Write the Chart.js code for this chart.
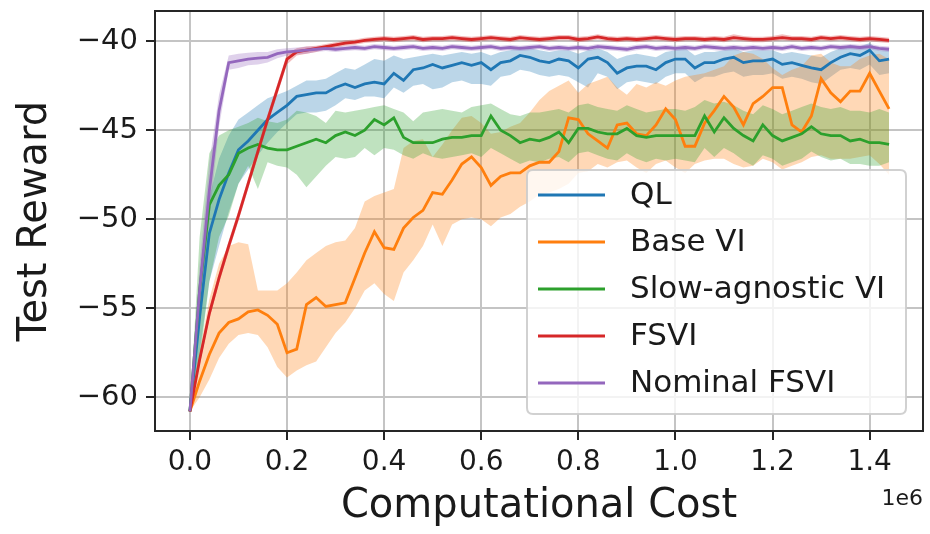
<!DOCTYPE html>
<html>
<head>
<meta charset="utf-8">
<script src="https://cdn.jsdelivr.net/npm/chart.js@4.4.1/dist/chart.umd.min.js"></script>
<style>
html,body{margin:0;padding:0;background:#fff;}
#wrap{width:930px;height:534px;position:relative;}
</style>
</head>
<body>
<div id="wrap"><canvas id="c" width="930" height="534"></canvas></div>
<script>
const costs = [0,20000,40000,60000,80000,100000,120000,140000,160000,180000,200000,220000,240000,260000,280000,300000,320000,340000,360000,380000,400000,420000,440000,460000,480000,500000,520000,540000,560000,580000,600000,620000,640000,660000,680000,700000,720000,740000,760000,780000,800000,820000,840000,860000,880000,900000,920000,940000,960000,980000,1000000,1020000,1040000,1060000,1080000,1100000,1120000,1140000,1160000,1180000,1200000,1220000,1240000,1260000,1280000,1300000,1320000,1340000,1360000,1380000,1400000,1420000,1440000];

const seriesNames = ["QL","Base VI","Slow-agnostic VI","FSVI","Nominal FSVI"];
const xTickValues = [0,200000,400000,600000,800000,1000000,1200000,1400000];
const yTickValues = [-60,-55,-50,-45,-40];

const qlMean = [-60.8,-55.5,-50.8,-48.9,-47.4,-46.1,-45.6,-45.0,-44.4,-44.0,-43.6,-43.1,-43.0,-42.9,-42.9,-42.6,-42.4,-42.6,-42.4,-42.3,-42.4,-41.8,-42.2,-41.6,-41.5,-41.3,-41.5,-41.35,-41.2,-41.35,-41.2,-41.6,-41.2,-41.1,-40.8,-40.9,-41.1,-41.2,-41.0,-41.1,-41.5,-41.0,-40.9,-41.2,-41.8,-41.5,-41.4,-41.4,-41.6,-41.2,-41.0,-41.0,-41.5,-41.2,-41.2,-41.0,-40.9,-41.2,-41.1,-41.1,-41.0,-41.3,-41.2,-41.35,-41.5,-41.6,-41.2,-40.9,-40.7,-40.8,-40.5,-41.1,-41.0];
const qlHigh = [-60.8,-54.0,-48.8,-46.6,-45.3,-44.4,-44.0,-43.6,-43.2,-43.0,-42.8,-42.5,-42.2,-42.2,-42.1,-41.8,-41.5,-41.6,-41.3,-41.0,-41.1,-40.8,-41.0,-40.9,-40.8,-40.7,-40.8,-40.7,-40.6,-40.7,-40.6,-40.8,-40.6,-40.5,-40.3,-40.4,-40.5,-40.6,-40.5,-40.5,-40.7,-40.5,-40.4,-40.6,-41.0,-40.8,-40.7,-40.8,-40.9,-40.6,-40.5,-40.4,-40.8,-40.6,-40.6,-40.5,-40.4,-40.6,-40.5,-40.5,-40.5,-40.7,-40.6,-40.7,-40.8,-40.9,-40.6,-40.4,-40.2,-40.3,-40.1,-40.5,-40.5];
const qlLow = [-60.8,-57.5,-53.5,-51.5,-49.6,-48.0,-47.2,-46.4,-45.7,-45.1,-44.6,-44.1,-44.0,-44.0,-43.9,-43.6,-43.2,-43.3,-43.1,-43.1,-43.2,-42.6,-42.9,-42.5,-42.4,-42.7,-42.6,-42.3,-42.2,-42.4,-42.4,-42.5,-42.0,-41.9,-41.6,-41.7,-41.9,-42.0,-41.9,-42.0,-42.3,-42.6,-41.8,-42.0,-42.7,-42.3,-42.2,-42.3,-42.4,-42.0,-41.8,-41.8,-42.3,-42.0,-42.0,-41.8,-41.7,-42.0,-41.9,-41.9,-41.8,-42.1,-42.0,-42.1,-42.3,-42.4,-42.0,-41.6,-41.5,-41.6,-41.3,-41.9,-41.8];

const baseMean = [-60.8,-59.1,-57.6,-56.4,-55.8,-55.6,-55.2,-55.1,-55.4,-55.9,-57.5,-57.3,-54.8,-54.4,-54.9,-54.8,-54.7,-53.3,-51.9,-50.7,-51.6,-51.7,-50.5,-49.9,-49.5,-48.5,-48.6,-47.8,-46.9,-46.5,-47.1,-48.1,-47.6,-47.4,-47.4,-47.0,-46.8,-46.8,-46.2,-44.3,-44.4,-45.2,-45.6,-46.0,-44.7,-44.6,-45.2,-45.3,-44.7,-43.8,-44.4,-45.9,-45.9,-44.6,-43.9,-43.1,-43.7,-44.7,-43.5,-43.1,-42.6,-42.6,-44.7,-45.1,-44.2,-42.1,-42.9,-43.4,-42.8,-42.8,-41.8,-42.8,-43.8];
const baseHigh = [-60.8,-57.5,-54.5,-52.5,-51.5,-51.3,-51.4,-54.0,-54.0,-54.0,-53.6,-53.0,-52.3,-51.9,-51.5,-51.3,-51.2,-50.5,-49.0,-48.7,-48.5,-48.3,-46.0,-45.6,-45.5,-46.5,-45.8,-45.0,-44.3,-44.2,-44.6,-45.2,-45.1,-44.8,-44.6,-44.0,-43.3,-42.8,-42.5,-42.2,-42.9,-42.4,-42.2,-42.0,-42.6,-43.0,-42.4,-42.6,-42.3,-42.5,-42.2,-42.0,-41.9,-41.8,-41.6,-41.4,-40.8,-40.6,-40.7,-41.0,-41.5,-41.9,-41.6,-41.4,-40.8,-40.7,-41.2,-41.4,-41.4,-41.0,-40.8,-40.7,-41.0];
const baseLow = [-60.8,-60.0,-59.0,-57.8,-57.0,-56.5,-56.4,-56.5,-57.2,-58.3,-58.9,-58.5,-58.2,-58.0,-57.2,-56.4,-55.8,-55.0,-54.0,-53.6,-54.2,-54.6,-53.0,-52.3,-51.5,-50.3,-51.5,-50.3,-50.0,-49.9,-50.0,-50.4,-49.9,-49.7,-49.3,-49.0,-48.6,-48.5,-48.3,-48.0,-47.4,-47.3,-46.9,-47.1,-46.8,-46.7,-47.1,-47.4,-46.9,-46.7,-47.1,-47.4,-46.9,-46.7,-46.6,-46.6,-46.9,-47.1,-47.0,-46.6,-46.8,-47.2,-47.0,-46.8,-46.5,-46.4,-46.6,-46.6,-46.6,-46.5,-46.4,-46.9,-47.5];

const slowMean = [-60.8,-54.0,-49.2,-48.1,-47.5,-46.3,-46.0,-45.8,-46.0,-46.1,-46.1,-45.9,-45.7,-45.5,-45.7,-45.3,-45.1,-45.3,-45.0,-44.4,-44.7,-44.3,-45.4,-45.7,-45.7,-45.7,-45.5,-45.4,-45.4,-45.3,-45.3,-44.2,-45.0,-45.3,-45.7,-45.5,-45.6,-45.4,-45.1,-45.7,-44.9,-44.9,-45.1,-45.2,-45.2,-44.9,-45.3,-45.4,-45.3,-45.3,-45.3,-45.3,-45.3,-44.2,-45.1,-44.3,-44.9,-45.3,-45.6,-44.7,-45.3,-45.6,-45.4,-45.2,-44.8,-45.2,-45.3,-45.3,-45.6,-45.5,-45.7,-45.7,-45.8];
const slowHigh = [-60.8,-51.0,-46.3,-45.3,-45.0,-44.8,-44.6,-44.3,-44.5,-44.6,-44.4,-43.9,-44.0,-44.2,-44.6,-43.9,-44.0,-43.9,-43.8,-43.7,-43.6,-43.8,-44.0,-44.5,-44.0,-43.9,-43.8,-43.9,-44.0,-43.7,-43.6,-43.5,-43.8,-44.1,-44.2,-44.0,-44.0,-43.9,-43.8,-44.0,-43.6,-43.5,-43.7,-43.8,-43.9,-43.6,-43.8,-44.0,-43.9,-43.8,-43.8,-43.9,-43.7,-43.3,-43.5,-43.4,-43.6,-43.9,-44.1,-43.6,-43.8,-44.1,-43.9,-43.7,-43.5,-43.7,-43.8,-43.7,-43.9,-43.9,-44.0,-43.8,-44.0];
const slowLow = [-60.8,-58.0,-53.5,-51.0,-49.8,-48.0,-47.0,-48.3,-46.8,-47.0,-47.1,-47.5,-48.2,-47.6,-47.0,-46.5,-46.6,-46.5,-46.0,-46.4,-46.0,-46.1,-46.4,-46.6,-46.3,-46.5,-46.6,-46.5,-46.4,-46.3,-46.5,-46.0,-46.3,-46.6,-46.9,-46.7,-46.8,-46.6,-46.5,-46.8,-46.3,-46.2,-46.4,-46.6,-46.7,-46.3,-46.6,-46.8,-46.6,-46.7,-46.6,-46.7,-46.8,-46.0,-46.5,-46.0,-46.3,-46.7,-47.0,-46.4,-46.6,-47.0,-46.8,-46.6,-46.2,-46.5,-46.7,-46.6,-46.9,-46.9,-47.0,-47.0,-46.8];

const fsviMean = [-60.8,-57.9,-55.3,-53.3,-51.5,-49.8,-48.0,-46.2,-44.4,-42.7,-41.0,-40.6,-40.5,-40.4,-40.3,-40.2,-40.1,-40.05,-39.95,-39.9,-39.85,-39.9,-39.85,-39.8,-39.9,-39.85,-39.85,-39.8,-39.85,-39.9,-39.85,-39.8,-39.85,-39.9,-39.8,-39.85,-39.9,-39.85,-39.8,-39.8,-39.9,-39.85,-39.75,-39.85,-39.9,-39.85,-39.9,-39.85,-39.8,-39.85,-39.9,-39.85,-39.85,-39.9,-39.85,-39.9,-39.8,-39.85,-39.9,-39.9,-39.85,-39.8,-39.85,-39.85,-39.9,-39.8,-39.85,-39.8,-39.85,-39.9,-39.85,-39.9,-39.95];
const fsviHigh = [-60.8,-57.6,-55.0,-53.0,-51.2,-49.5,-47.7,-45.9,-44.1,-42.4,-40.7,-40.4,-40.3,-40.25,-40.15,-40.05,-39.95,-39.9,-39.8,-39.75,-39.7,-39.75,-39.7,-39.65,-39.75,-39.7,-39.7,-39.65,-39.7,-39.75,-39.7,-39.65,-39.7,-39.75,-39.65,-39.7,-39.75,-39.7,-39.65,-39.65,-39.75,-39.7,-39.6,-39.7,-39.75,-39.7,-39.75,-39.7,-39.65,-39.7,-39.75,-39.7,-39.7,-39.75,-39.7,-39.75,-39.6,-39.7,-39.75,-39.75,-39.7,-39.6,-39.7,-39.7,-39.75,-39.65,-39.7,-39.65,-39.7,-39.75,-39.7,-39.75,-39.8];
const fsviLow = [-60.8,-58.2,-55.6,-53.6,-51.8,-50.1,-48.3,-46.5,-44.7,-43.0,-41.3,-40.8,-40.7,-40.6,-40.45,-40.35,-40.25,-40.2,-40.1,-40.05,-40.0,-40.05,-40.0,-39.95,-40.05,-40.0,-40.0,-39.95,-40.0,-40.05,-40.0,-39.95,-40.0,-40.05,-39.95,-40.0,-40.05,-40.0,-39.95,-39.95,-40.05,-40.0,-39.9,-40.0,-40.05,-40.0,-40.05,-40.0,-39.95,-40.0,-40.05,-40.0,-40.0,-40.05,-40.0,-40.05,-39.95,-40.0,-40.05,-40.05,-40.0,-39.95,-40.0,-40.0,-40.05,-39.95,-40.0,-39.95,-40.0,-40.05,-40.0,-40.05,-40.1];

const nomMean = [-60.8,-54.0,-48.4,-43.9,-41.2,-41.1,-41.0,-40.95,-40.9,-40.7,-40.6,-40.55,-40.5,-40.45,-40.4,-40.45,-40.4,-40.35,-40.4,-40.3,-40.35,-40.4,-40.35,-40.3,-40.4,-40.35,-40.4,-40.3,-40.35,-40.4,-40.35,-40.3,-40.4,-40.35,-40.4,-40.35,-40.3,-40.4,-40.35,-40.4,-40.35,-40.4,-40.3,-40.35,-40.4,-40.45,-40.35,-40.3,-40.4,-40.35,-40.4,-40.35,-40.4,-40.3,-40.35,-40.4,-40.35,-40.4,-40.35,-40.4,-40.35,-40.4,-40.3,-40.4,-40.35,-40.4,-40.3,-40.35,-40.3,-40.35,-40.3,-40.4,-40.45];
const nomHigh = [-60.8,-52.5,-46.8,-43.0,-40.8,-40.7,-40.65,-40.6,-40.6,-40.45,-40.4,-40.35,-40.3,-40.3,-40.25,-40.3,-40.25,-40.2,-40.25,-40.15,-40.2,-40.25,-40.2,-40.15,-40.25,-40.2,-40.25,-40.15,-40.2,-40.25,-40.2,-40.15,-40.25,-40.2,-40.25,-40.2,-40.15,-40.25,-40.2,-40.25,-40.2,-40.25,-40.15,-40.2,-40.25,-40.3,-40.2,-40.15,-40.25,-40.2,-40.25,-40.2,-40.25,-40.15,-40.2,-40.25,-40.2,-40.25,-40.2,-40.25,-40.2,-40.25,-40.15,-40.25,-40.2,-40.25,-40.15,-40.2,-40.15,-40.2,-40.15,-40.25,-40.3];
const nomLow = [-60.8,-55.5,-50.0,-44.8,-41.6,-41.5,-41.35,-41.3,-41.2,-40.95,-40.8,-40.75,-40.7,-40.6,-40.55,-40.6,-40.55,-40.5,-40.55,-40.45,-40.5,-40.55,-40.5,-40.45,-40.55,-40.5,-40.55,-40.45,-40.5,-40.55,-40.5,-40.45,-40.55,-40.5,-40.55,-40.5,-40.45,-40.55,-40.5,-40.55,-40.5,-40.55,-40.45,-40.5,-40.55,-40.6,-40.5,-40.45,-40.55,-40.5,-40.55,-40.5,-40.55,-40.45,-40.5,-40.55,-40.5,-40.55,-40.5,-40.55,-40.5,-40.55,-40.45,-40.55,-40.5,-40.55,-40.45,-40.5,-40.45,-40.5,-40.45,-40.55,-40.6];

const colors = ["#1f77b4","#ff7f0e","#2ca02c","#d62728","#9467bd"];
const bandColors = ["rgba(31,119,180,0.3)","rgba(255,127,14,0.3)","rgba(44,160,44,0.3)","rgba(214,39,40,0.3)","rgba(148,103,189,0.3)"];

const means = [qlMean, baseMean, slowMean, fsviMean, nomMean];
const highs = [qlHigh, baseHigh, slowHigh, fsviHigh, nomHigh];
const lows = [qlLow, baseLow, slowLow, fsviLow, nomLow];

const pts = arr => arr.map((v,i)=>({x:costs[i], y:v}));
const FONT = "'DejaVu Sans', sans-serif";

const datasets = [];
for (let s=0; s<5; s++) {
  datasets.push({
    label: seriesNames[s] + " hi", data: pts(highs[s]),
    borderColor:'transparent', borderWidth:0, backgroundColor: bandColors[s],
    fill:'+1', pointRadius:0, tension:0, order: 20 - s
  });
  datasets.push({
    label: seriesNames[s] + " lo", data: pts(lows[s]),
    borderColor:'transparent', borderWidth:0, backgroundColor:'transparent',
    fill:false, pointRadius:0, tension:0, order: 20 - s
  });
}
for (let s=0; s<5; s++) {
  datasets.push({
    label: seriesNames[s], data: pts(means[s]),
    borderColor: colors[s], backgroundColor: colors[s], borderWidth: 2.8,
    fill:false, pointRadius:0, tension:0, order: 10 - s
  });
}

const framePlugin = {
  id:'frame',
  afterDatasetsDraw(chart){
    const {ctx, chartArea:a} = chart;
    ctx.save();
    ctx.strokeStyle = '#262626';
    ctx.lineWidth = 2;
    ctx.strokeRect(a.left, a.top, a.right-a.left, a.bottom-a.top);
    ctx.fillStyle = '#1a1a1a';
    ctx.font = "22px " + FONT;
    ctx.textAlign = 'right';
    ctx.textBaseline = 'alphabetic';
    ctx.fillText('1e6', a.right, 505);
    // legend
    const lx=527, ly=170, lw=379, lh=244, r=6;
    ctx.beginPath();
    ctx.moveTo(lx+r,ly); ctx.lineTo(lx+lw-r,ly); ctx.quadraticCurveTo(lx+lw,ly,lx+lw,ly+r);
    ctx.lineTo(lx+lw,ly+lh-r); ctx.quadraticCurveTo(lx+lw,ly+lh,lx+lw-r,ly+lh);
    ctx.lineTo(lx+r,ly+lh); ctx.quadraticCurveTo(lx,ly+lh,lx,ly+lh-r);
    ctx.lineTo(lx,ly+r); ctx.quadraticCurveTo(lx,ly,lx+r,ly); ctx.closePath();
    ctx.fillStyle = 'rgba(255,255,255,0.8)';
    ctx.fill();
    ctx.strokeStyle = 'rgba(204,204,204,0.9)';
    ctx.lineWidth = 2;
    ctx.stroke();
    ctx.font = "31px " + FONT;
    ctx.textAlign = 'left';
    ctx.textBaseline = 'middle';
    for (let s=0; s<5; s++) {
      const y = 195 + s*47;
      ctx.strokeStyle = colors[s];
      ctx.lineWidth = 2.8;
      ctx.beginPath(); ctx.moveTo(538,y); ctx.lineTo(605,y); ctx.stroke();
      ctx.fillStyle = '#1a1a1a';
      ctx.fillText(seriesNames[s], 630, y+1);
    }
    ctx.restore();
  }
};

new Chart(document.getElementById('c'), {
  type:'line',
  data:{datasets},
  options:{
    responsive:false, animation:false,
    layout:{padding:{top:11,right:7,left:0,bottom:0}},
    plugins:{legend:{display:false}, tooltip:{enabled:false}},
    scales:{
      x:{
        type:'linear', min:-71900, max:1509900,
        afterFit(s){ s.height = 103; s.paddingLeft = 0; s.paddingRight = 0; },
        afterBuildTicks(s){ s.ticks = xTickValues.map(v=>({value:v})); },
        ticks:{ callback:v=>(v/1e6).toFixed(1), font:{family:FONT, size:28}, color:'#1a1a1a', padding:6, maxRotation:0, autoSkip:false },
        grid:{ color:'#c4c4c4', lineWidth:2, drawTicks:true, tickLength:9, tickColor:'#262626', tickWidth:2 },
        border:{ display:true, color:'#262626', width:2 },
        title:{ display:true, text:'Computational Cost', font:{family:FONT, size:40}, color:'#1a1a1a', padding:{top:0,bottom:3} }
      },
      y:{
        type:'linear', min:-61.9, max:-38.3,
        afterFit(s){ s.width = 155; s.paddingTop = 0; s.paddingBottom = 0; },
        afterBuildTicks(s){ s.ticks = yTickValues.map(v=>({value:v})); },
        ticks:{ callback:v=>'\u2212'+Math.abs(v), font:{family:FONT, size:29}, color:'#1a1a1a', padding:8 },
        grid:{ color:'#c4c4c4', lineWidth:2, drawTicks:true, tickLength:9, tickColor:'#262626', tickWidth:2 },
        border:{ display:true, color:'#262626', width:2 },
        title:{ display:true, text:'Test Reward', font:{family:FONT, size:40}, color:'#1a1a1a', padding:{top:12,bottom:0} }
      }
    }
  },
  plugins:[framePlugin]
});
</script>
</body>
</html>
